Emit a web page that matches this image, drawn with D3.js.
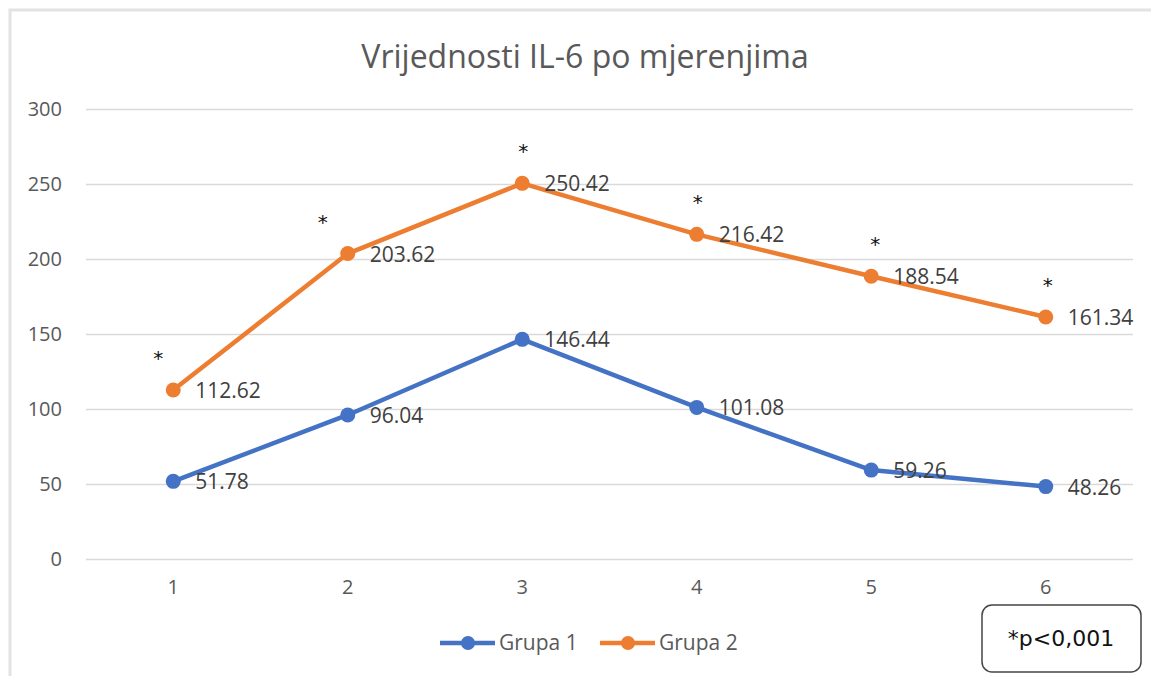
<!DOCTYPE html>
<html><head><meta charset="utf-8">
<script src="https://cdn.jsdelivr.net/npm/d3@7/dist/d3.min.js"></script>
<style>html,body{margin:0;padding:0;background:#fff;}</style>
</head><body>
<svg id="c" width="1151" height="676"></svg>
<script>
const categories = ["1","2","3","4","5","6"];
const grupa1 = [51.78, 96.04, 146.44, 101.08, 59.26, 48.26];
const grupa2 = [112.62, 203.62, 250.42, 216.42, 188.54, 161.34];
const seriesNames = ["Grupa 1", "Grupa 2"];
const yTicks = [0, 50, 100, 150, 200, 250, 300];
const significance = ["*","*","*","*","*","*"];
const title = "Vrijednosti IL-6 po mjerenjima";
const note = "*p<0,001";

const colors = ["#4472C4", "#ED7D31"];
const font = "'Open Sans', 'Noto Sans', sans-serif";
const svg = d3.select("#c");

// frame
svg.append("rect").attr("x",10).attr("y",10).attr("width",1160).attr("height",700)
  .attr("fill","#fff").attr("stroke","#e3e3e3").attr("stroke-width",3);

const x = d3.scaleBand().domain(categories).range([86,1133]);
const y = d3.scaleLinear().domain([0,300]).range([559,109]);
const cx = c => x(c) + x.bandwidth()/2;

// title
svg.append("text").attr("x",585).attr("y",68).attr("text-anchor","middle")
  .attr("font-family",font).attr("font-size",32).attr("fill","#595959").text(title);

// grid
const yAxis = d3.axisLeft(y).tickValues(yTicks).tickSize(-(1133-86)).tickPadding(24);
const gy = svg.append("g").attr("transform","translate(86,0)").call(yAxis);
gy.select(".domain").remove();
gy.selectAll(".tick line").attr("stroke","#d9d9d9").attr("stroke-width",1.5);
gy.selectAll(".tick text").attr("font-family",font).attr("font-size",20).attr("fill","#595959");

const xAxis = d3.axisBottom(x).tickSize(0).tickPadding(21);
const gx = svg.append("g").attr("transform","translate(0,559)").call(xAxis);
gx.select(".domain").remove();
gx.selectAll(".tick text").attr("font-family",font).attr("font-size",20).attr("fill","#595959");

const line = d3.line().x((d,i)=>cx(categories[i])).y(d=>y(d));
[grupa1, grupa2].forEach((s,k)=>{
  svg.append("path").datum(s).attr("d",line).attr("fill","none")
    .attr("stroke",colors[k]).attr("stroke-width",4.5).attr("stroke-linejoin","round");
  svg.selectAll(null).data(s).enter().append("circle")
    .attr("cx",(d,i)=>cx(categories[i])).attr("cy",d=>y(d)).attr("r",7.5).attr("fill",colors[k]);
  svg.selectAll(null).data(s).enter().append("text")
    .attr("x",(d,i)=>cx(categories[i])+22).attr("y",d=>y(d)+8)
    .attr("font-family",font).attr("font-size",21).attr("fill","#404040")
    .text(d=>d.toFixed(2));
});

// asterisks
const starDx = [-15,-25,1,1,4,2];
svg.selectAll(null).data(significance).enter().append("text")
  .attr("x",(d,i)=>cx(categories[i])+starDx[i]).attr("y",(d,i)=>y(grupa2[i])-25)
  .attr("text-anchor","middle").attr("font-family","'DejaVu Sans', sans-serif")
  .attr("font-size",20).attr("fill","#111").text(d=>d);

// legend
const legX = [440, 600];
seriesNames.forEach((n,k)=>{
  const g = svg.append("g").attr("transform",`translate(${legX[k]},643)`);
  g.append("line").attr("x1",0).attr("x2",55).attr("y1",0).attr("y2",0)
    .attr("stroke",colors[k]).attr("stroke-width",4.5);
  g.append("circle").attr("cx",28).attr("cy",0).attr("r",7).attr("fill",colors[k]);
  g.append("text").attr("x",59).attr("y",7).attr("font-family",font).attr("font-size",21)
    .attr("fill","#595959").text(n);
});

// note box
svg.append("rect").attr("x",982).attr("y",605).attr("width",159).attr("height",67).attr("rx",10)
  .attr("fill","#fff").attr("stroke","#444").attr("stroke-width",1.5);
svg.append("text").attr("x",1061).attr("y",646).attr("text-anchor","middle")
  .attr("font-family","'DejaVu Sans', sans-serif").attr("font-size",22).attr("fill","#111").text(note);
</script>
</body></html>
